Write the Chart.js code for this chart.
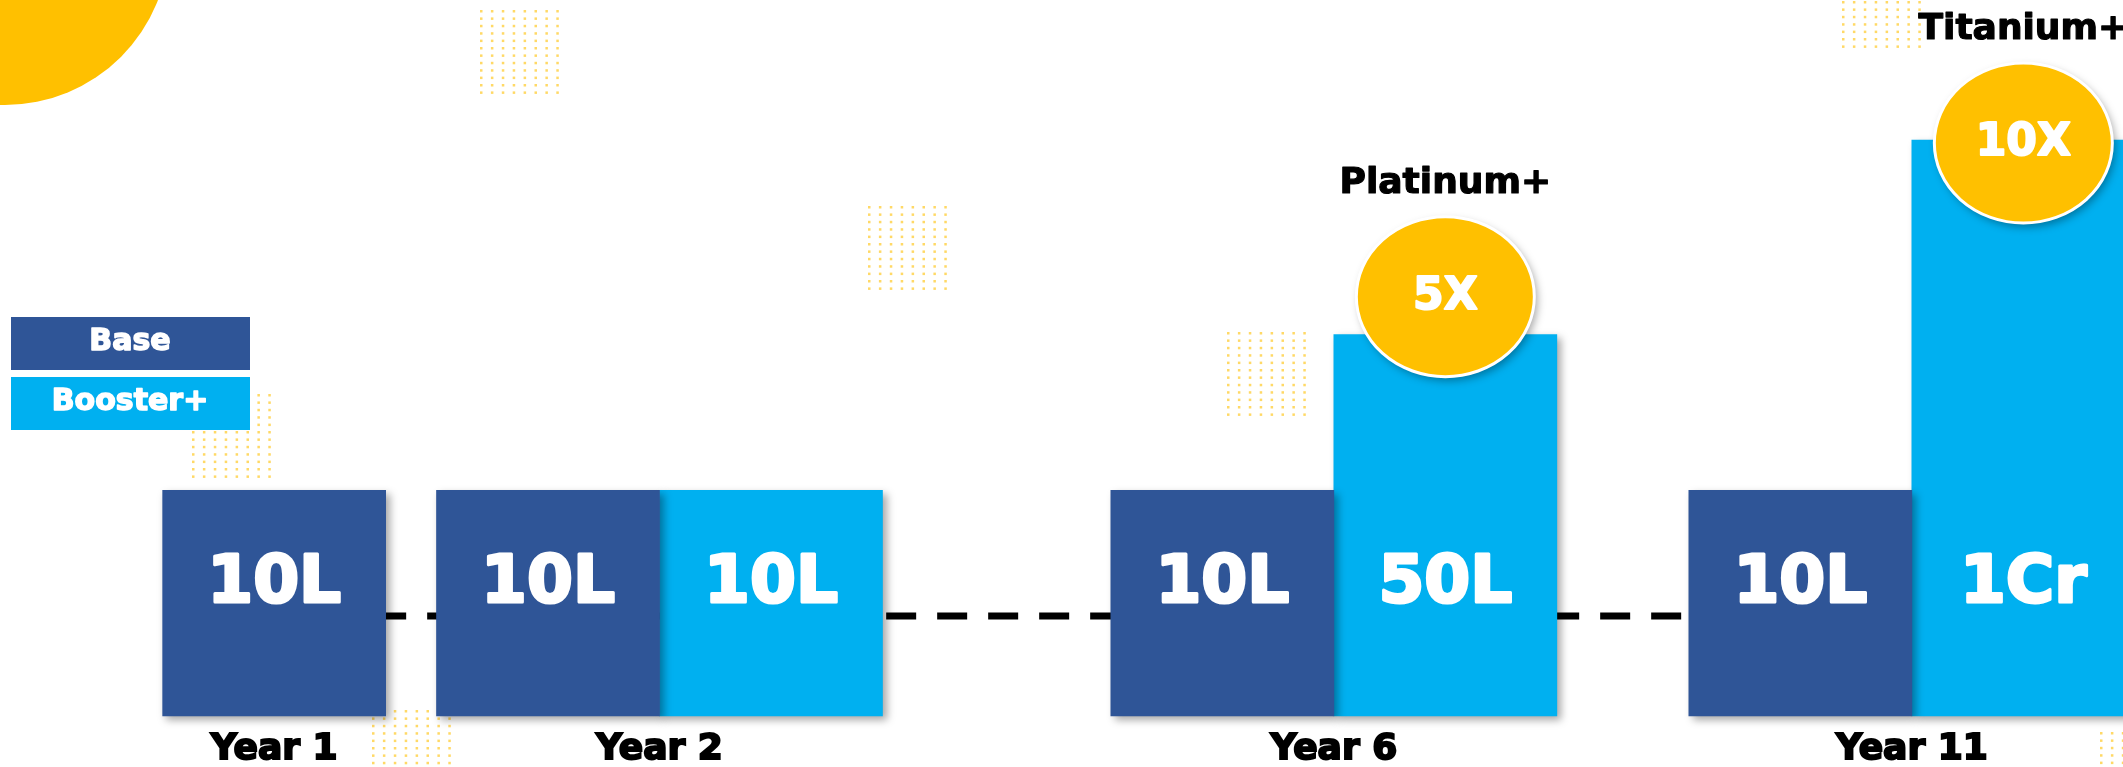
<!DOCTYPE html>
<html>
<head>
<meta charset="utf-8">
<script src="https://cdn.jsdelivr.net/npm/chart.js@4.4.1/dist/chart.umd.min.js"></script>
<style>
    html, body { margin: 0; padding: 0; background: #fff; overflow: hidden; }
    #wrap { position: relative; width: 2123px; height: 767px; }
</style>
</head>
<body>
<div id="wrap"><canvas id="plan-chart"></canvas></div>
<script>
// Years shown on the timeline
const years = ['Year 1', 'Year 2', 'Year 6', 'Year 11'];
// Amounts in lakhs (100L = 1Cr)
const baseValues = [10, 10, 10, 10];
const boosterValues = [null, 10, 50, 100];
// Tier names shown over the booster bars
const tierNames = [null, null, 'Platinum+', 'Titanium+'];
const seriesNames = ['Base', 'Booster+'];

const BASE_BLUE = '#2F5597';
const BOOSTER_BLUE = '#00B0F0';
const GOLD = '#FFC000';
const HEAVY = '"DejaVu Sans", "Arial Black", sans-serif';

// category slot used by each year, the empty slots give the uneven gaps of the slide
const slotOf = [0, 4, 11, 17];
const slotCount = 18;
// bars on the slide don't start at zero, they stand on this floor
const axisFloor = -48;

function spread(values) {
    const out = new Array(slotCount).fill(null);
    values.forEach((v, i) => { out[slotOf[i]] = v; });
    return out;
}

function formatAmount(v) {
    return v >= 100 ? (v / 100) + 'Cr' : v + 'L';
}

const slotLabels = spread(years).map(l => l || '');

// decoration dot grids (top-left corners)
const dotGrids = [[481, 11], [869, 207], [1228, 333], [1843, -35], [193, 395], [373, 711], [2101, 733]];

// fill + same-colour stroke, the slide uses a very heavy face
function heavyText(ctx, text, x, y, color, stroke) {
    ctx.fillStyle = color;
    ctx.strokeStyle = color;
    ctx.lineWidth = stroke;
    ctx.lineJoin = 'round';
    ctx.strokeText(text, x, y);
    ctx.fillText(text, x, y);
}

const slideDecor = {
    id: 'slideDecor',
    beforeDraw(chart) {
        const ctx = chart.ctx;
        ctx.save();
        ctx.fillStyle = '#fff';
        ctx.fillRect(0, 0, chart.width, chart.height);
        ctx.fillStyle = GOLD;
        ctx.beginPath();
        ctx.arc(5, -59, 164, 0, Math.PI * 2);
        ctx.fill();
        ctx.fillStyle = 'rgba(255, 192, 0, 0.6)';
        dotGrids.forEach(([gx, gy]) => {
            for (let c = 0; c < 8; c++) {
                for (let r = 0; r < 12; r++) {
                    ctx.fillRect(gx + c * 10.9 - 1, gy + r * 7.4 - 1, 2.5, 2.5);
                }
            }
        });
        ctx.restore();
    },
    beforeDatasetsDraw(chart) {
        const ctx = chart.ctx;
        const x = chart.scales.x, y = chart.scales.y;
        const lineY = y.getPixelForValue(axisFloor) - 100;
        ctx.save();
        ctx.strokeStyle = '#000';
        ctx.lineWidth = 7;
        ctx.setLineDash([30, 21]);
        ctx.beginPath();
        ctx.moveTo(x.getPixelForValue(slotOf[0]), lineY);
        ctx.lineTo(x.getPixelForValue(slotOf[slotOf.length - 1]), lineY);
        ctx.stroke();
        ctx.restore();
    },
    beforeDatasetDraw(chart) {
        const ctx = chart.ctx;
        ctx.save();
        ctx.shadowColor = 'rgba(0, 0, 0, 0.35)';
        ctx.shadowBlur = 8;
        ctx.shadowOffsetX = 4;
        ctx.shadowOffsetY = 4;
    },
    afterDatasetDraw(chart) {
        chart.ctx.restore();
    },
    afterDatasetsDraw(chart) {
        const ctx = chart.ctx;
        const y = chart.scales.y;
        const floorY = y.getPixelForValue(axisFloor);
        ctx.save();
        ctx.textAlign = 'center';
        ctx.textBaseline = 'middle';

        // amounts inside the bars
        ctx.font = 'bold 66px ' + HEAVY;
        chart.data.datasets.forEach((ds, di) => {
            chart.getDatasetMeta(di).data.forEach((bar, i) => {
                if (ds.data[i] == null) return;
                heavyText(ctx, formatAmount(ds.data[i]), bar.x, floorY - 131, '#fff', 3);
            });
        });

        // multiplier badges + tier names
        const boosterBars = chart.getDatasetMeta(1).data;
        years.forEach((yr, i) => {
            const b = boosterValues[i];
            if (b == null || b / baseValues[i] <= 1) return;
            const bar = boosterBars[slotOf[i]];
            // keep the tier caption inside the canvas
            const cy = Math.max(bar.y - 38, 143);
            ctx.save();
            ctx.shadowColor = 'rgba(0, 0, 0, 0.35)';
            ctx.shadowBlur = 8;
            ctx.shadowOffsetX = 3;
            ctx.shadowOffsetY = 4;
            ctx.fillStyle = GOLD;
            ctx.strokeStyle = '#fff';
            ctx.lineWidth = 3;
            ctx.beginPath();
            ctx.ellipse(bar.x, cy, 89, 80, 0, 0, Math.PI * 2);
            ctx.fill();
            ctx.shadowColor = 'transparent';
            ctx.stroke();
            ctx.restore();

            ctx.font = 'bold 44px ' + HEAVY;
            heavyText(ctx, (b / baseValues[i]) + 'X', bar.x, cy + 1, '#fff', 2);
            if (tierNames[i]) {
                ctx.font = 'bold 36px ' + HEAVY;
                heavyText(ctx, tierNames[i], bar.x, cy - 113, '#000', 1.2);
            }
        });

        // legend boxes
        const colors = [BASE_BLUE, BOOSTER_BLUE];
        seriesNames.forEach((name, i) => {
            const top = 317 + i * 60;
            ctx.fillStyle = colors[i];
            ctx.fillRect(11, top, 239, 53);
            ctx.font = 'bold 30px ' + HEAVY;
            heavyText(ctx, name, 130, top + 25, '#fff', 1.5);
        });
        ctx.restore();
    }
};

const ctx = document.getElementById('plan-chart').getContext('2d');
const chart = new Chart(ctx, {
    type: 'bar',
    data: {
        labels: slotLabels,
        datasets: [{
            label: seriesNames[0],
            data: spread(baseValues),
            backgroundColor: BASE_BLUE,
            base: axisFloor
        }, {
            label: seriesNames[1],
            data: spread(boosterValues),
            backgroundColor: BOOSTER_BLUE,
            base: axisFloor
        }]
    },
    options: {
        responsive: true,
        maintainAspectRatio: false,
        animation: false,
        devicePixelRatio: 1,
        layout: { padding: { left: 226, right: 163, top: 0, bottom: -17 } },
        datasets: {
            bar: { barThickness: 223, skipNull: true, clip: false, borderWidth: 0 }
        },
        plugins: {
            legend: { display: false },
            tooltip: { enabled: false }
        },
        scales: {
            x: {
                grid: { display: false, drawTicks: false },
                border: { display: false },
                ticks: {
                    autoSkip: false,
                    maxRotation: 0,
                    padding: 16,
                    color: '#000',
                    textStrokeColor: '#000',
                    textStrokeWidth: 2,
                    font: { family: HEAVY, size: 36, weight: 'bold', lineHeight: 1 }
                }
            },
            y: {
                display: false,
                min: axisFloor,
                max: 136
            }
        }
    },
    plugins: [slideDecor]
});
</script>
</body>
</html>
